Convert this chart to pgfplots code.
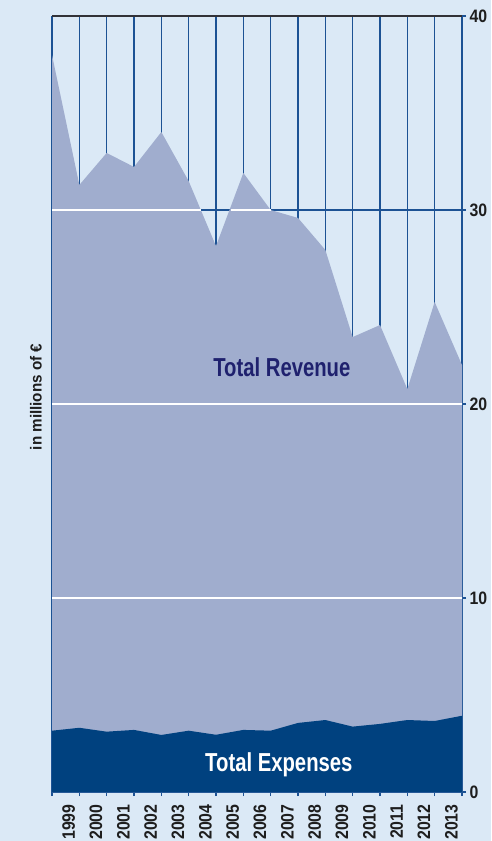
\documentclass[border=0pt]{standalone}
\usepackage{pgfplots}
\pgfplotsset{compat=1.18}
\usepackage{fontspec}
\setmainfont{Liberation Sans}
\newfontfamily\tickfont[FakeStretch=0.88]{Liberation Sans}
\newfontfamily\titlefont[FakeStretch=0.78]{Liberation Sans}
\newfontfamily\labfont[FakeStretch=0.95]{Liberation Sans}
\definecolor{bgcol}{RGB}{219,233,246}
\definecolor{revcol}{RGB}{160,173,206}
\definecolor{expcol}{RGB}{0,65,127}
\definecolor{gridblue}{RGB}{28,82,148}
\definecolor{topgray}{RGB}{50,50,55}
\definecolor{revtext}{RGB}{31,33,110}
\definecolor{ticktext}{RGB}{30,30,30}
\begin{document}
\begin{tikzpicture}[x=1pt,y=1pt]
\fill[bgcol] (0,0) rectangle (491,841);
\begin{axis}[
  at={(52pt,49pt)}, anchor=south west,
  width=410pt, height=776pt, scale only axis,
  xmin=0, xmax=15, ymin=0, ymax=40,
  axis x line*=bottom, axis y line*=right,
  axis line style={color=gridblue, line width=1.2pt},
  xtick={0,1,...,15}, xticklabels={},
  extra x ticks={0.5,1.5,2.5,3.5,4.5,5.5,6.5,7.5,8.5,9.5,10.5,11.5,12.5,13.5,14.5},
  extra x tick labels={1999,2000,2001,2002,2003,2004,2005,2006,2007,2008,2009,2010,2011,2012,2013},
  extra x tick style={grid=none, major tick length=0pt,
     tick label style={rotate=90, anchor=east, font=\tickfont\bfseries\fontsize{18}{19}\selectfont, text=ticktext, xshift=-9pt, yshift=-3pt}},
  ytick={0,10,20,30,40},
  /pgf/number format/assume math mode=true,
  yticklabel style={font=\tickfont\bfseries\fontsize{18}{20}\selectfont, text=ticktext},
  tick align=outside, major tick length=4pt,
  tick style={color=gridblue, line width=1.2pt},
  xmajorgrids, ymajorgrids,
  major grid style={color=gridblue, line width=1.2pt},
]
\addplot[fill=revcol, draw=none] coordinates {
 (0,37.99) (1,31.29) (2,32.94) (3,32.22) (4,34.02) (5,31.49) (6,28.14) (7,31.91)
 (8,30.0) (9,29.59) (10,27.94) (11,23.45) (12,24.07) (13,20.77) (14,25.26) (15,22.01)
} \closedcycle;
\addplot[fill=expcol, draw=none] coordinates {
 (0,3.16) (1,3.31) (2,3.11) (3,3.20) (4,2.94) (5,3.16) (6,2.95) (7,3.20)
 (8,3.16) (9,3.56) (10,3.71) (11,3.37) (12,3.51) (13,3.71) (14,3.66) (15,3.93)
} \closedcycle;
\addplot[white, line width=1.2pt] coordinates {(0,10) (15,10)};
\addplot[white, line width=1.2pt] coordinates {(0,20) (15,20)};
\addplot[white, line width=1.2pt] coordinates {(0,30) (5.45,30)};
\addplot[white, line width=1.2pt] coordinates {(6.55,30) (8.0,30)};
\addplot[topgray, line width=1.6pt] coordinates {(0,40) (15,40)};
\node[anchor=base, text=revtext, font=\titlefont\bfseries\fontsize{26}{28}\selectfont] at (axis cs:8.41,21.44) {Total Revenue};
\node[anchor=base, text=white, font=\titlefont\bfseries\fontsize{26}{28}\selectfont] at (axis cs:8.30,1.08) {Total Expenses};
\end{axis}
\node[rotate=90, text=ticktext, font=\labfont\bfseries\fontsize{16}{18}\selectfont] at (36,444) {in millions of €};
\pgfresetboundingbox
\useasboundingbox (0,0) rectangle (491,841);
\end{tikzpicture}
\end{document}
